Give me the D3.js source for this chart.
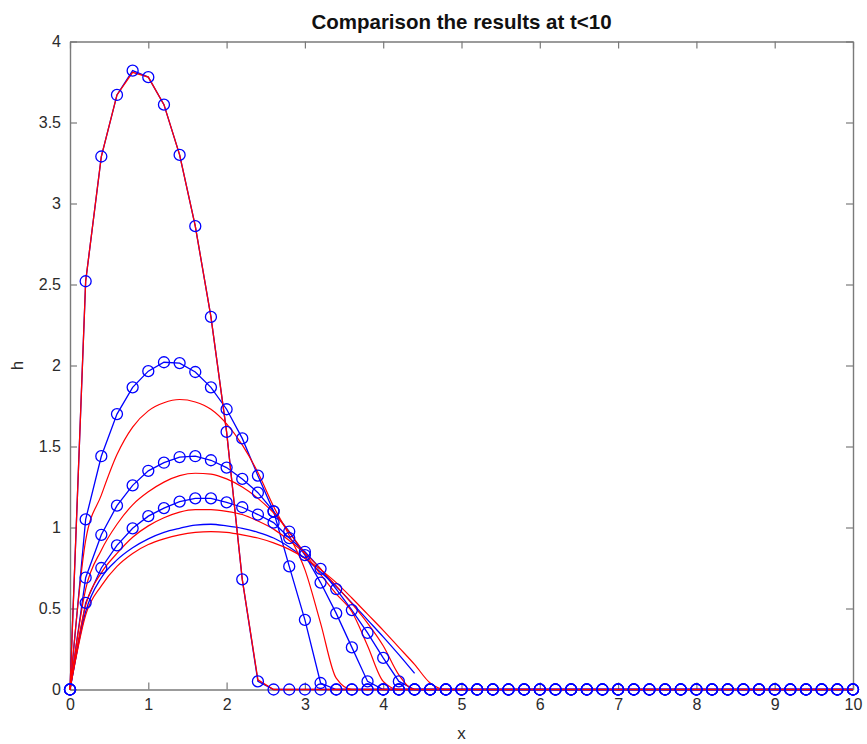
<!DOCTYPE html>
<html>
<head>
<meta charset="utf-8">
<script src="https://cdn.jsdelivr.net/npm/d3@7"></script>
<style>
  body { margin: 0; background: #fff; }
  text { font-family: "Liberation Sans", Arial, Helvetica, sans-serif; }
</style>
</head>
<body>
<svg id="chart" width="867" height="744"></svg>
<script>
// Grid positions along x (step 0.2 from 0 to 10)
const xGrid = [0,0.2,0.4,0.6,0.8,1,1.2,1.4,1.6,1.8,2,2.2,2.4,2.6,2.8,3,3.2,3.4,3.6,3.8,4,
  4.2,4.4,4.6,4.8,5,5.2,5.4,5.6,5.8,6,6.2,6.4,6.6,6.8,7,7.2,7.4,7.6,7.8,8,
  8.2,8.4,8.6,8.8,9,9.2,9.4,9.6,9.8,10];

const xTicks = [0,1,2,3,4,5,6,7,8,9,10];
const yTicks = [0,0.5,1,1.5,2,2.5,3,3.5,4];

// Blue profiles drawn with circle markers (one value per grid position)
const blue1 = [0,2.52,3.29,3.67,3.82,3.78,3.61,3.30,2.86,2.30,1.59,0.68,0.05,0,0,0,0,0,0,0,0,
  0,0,0,0,0,0,0,0,0,0,0,0,0,0,0,0,0,0,0,0,0,0,0,0,0,0,0,0,0,0];
const blue2 = [0,1.05,1.44,1.70,1.865,1.965,2.02,2.015,1.96,1.865,1.73,1.55,1.32,1.10,0.76,0.43,0.04,0,0,0,0,
  0,0,0,0,0,0,0,0,0,0,0,0,0,0,0,0,0,0,0,0,0,0,0,0,0,0,0,0,0,0];
const blue3 = [0,0.69,0.955,1.135,1.26,1.35,1.40,1.435,1.44,1.415,1.37,1.30,1.215,1.10,0.975,0.83,0.66,0.47,0.26,0.05,0,
  0,0,0,0,0,0,0,0,0,0,0,0,0,0,0,0,0,0,0,0,0,0,0,0,0,0,0,0,0,0];
const blue4 = [0,0.535,0.75,0.89,0.995,1.07,1.12,1.16,1.18,1.18,1.155,1.125,1.08,1.03,0.935,0.85,0.745,0.62,0.49,0.35,0.195,
  0.05,0,0,0,0,0,0,0,0,0,0,0,0,0,0,0,0,0,0,0,0,0,0,0,0,0,0,0,0,0];
// Blue profile without markers, defined up to x = 4.4
const blue5 = [0,0.48,0.69,0.80,0.875,0.93,0.97,0.995,1.015,1.02,1.01,0.995,0.97,0.935,0.88,0.81,0.725,0.635,0.535,0.43,0.325,
  0.215,0.10];

// Red profiles (lines only)
const red1 = [0,2.52,3.29,3.67,3.81,3.78,3.61,3.30,2.86,2.30,1.59,0.68,0.06,0,0,0,0,0,0,0,0,
  0,0,0,0,0,0,0,0,0,0,0,0,0,0,0,0,0,0,0,0,0,0,0,0,0,0,0,0,0,0];
const red2 = [0,0.92,1.20,1.45,1.62,1.72,1.77,1.79,1.775,1.73,1.64,1.51,1.34,1.13,0.95,0.74,0.41,0.07,0,0,0,
  0,0,0,0,0,0,0,0,0,0,0,0,0,0,0,0,0,0,0,0,0,0,0,0,0,0,0,0,0,0];
const red3 = [0,0.62,0.86,1.02,1.14,1.22,1.28,1.32,1.335,1.33,1.30,1.25,1.18,1.09,0.97,0.84,0.71,0.59,0.48,0.27,0.05,
  0,0,0,0,0,0,0,0,0,0,0,0,0,0,0,0,0,0,0,0,0,0,0,0,0,0,0,0,0,0];
const red4 = [0,0.52,0.72,0.84,0.94,1.01,1.06,1.095,1.11,1.11,1.10,1.08,1.04,0.99,0.92,0.84,0.745,0.64,0.53,0.41,0.27,
  0.09,0,0,0,0,0,0,0,0,0,0,0,0,0,0,0,0,0,0,0,0,0,0,0,0,0,0,0,0,0];
const red5 = [0,0.46,0.64,0.76,0.84,0.895,0.93,0.955,0.97,0.975,0.97,0.955,0.935,0.905,0.865,0.81,0.74,0.66,0.565,0.465,0.365,
  0.26,0.155,0.04,0,0,0,0,0,0,0,0,0,0,0,0,0,0,0,0,0,0,0,0,0,0,0,0,0,0,0];

const titleText = "Comparison the results at t<10";
const xLabel = "x";
const yLabel = "h";

const svg = d3.select("#chart");
svg.append("rect").attr("width", 867).attr("height", 744).attr("fill", "#fff");

const plotLeft = 70, plotRight = 853, plotTop = 41.5, plotBottom = 689.5;
const x = d3.scaleLinear().domain([0, 10]).range([plotLeft, plotRight]);
const y = d3.scaleLinear().domain([0, 4]).range([plotBottom, plotTop]);

const axisColor = "#7a7a7a";
const labelColor = "#2b2b2b";
const tickLen = 7;

function styleAxis(g) {
  g.selectAll("path.domain").attr("stroke", axisColor).attr("stroke-width", 1.4);
  g.selectAll(".tick line").attr("stroke", axisColor).attr("stroke-width", 1.2);
  g.selectAll(".tick text").attr("fill", labelColor).attr("font-size", 16)
    .attr("font-family", "\"Liberation Sans\", Arial, Helvetica, sans-serif");
}

const fmt = d => String(d);

svg.append("g").attr("transform", `translate(0,${plotBottom})`)
  .call(d3.axisBottom(x).tickValues(xTicks).tickFormat(fmt).tickSize(-tickLen).tickSizeOuter(0).tickPadding(9))
  .call(styleAxis);
svg.append("g").attr("transform", `translate(0,${plotTop})`)
  .call(d3.axisTop(x).tickValues(xTicks).tickFormat("").tickSize(-tickLen).tickSizeOuter(0))
  .call(styleAxis);
svg.append("g").attr("transform", `translate(${plotLeft},0)`)
  .call(d3.axisLeft(y).tickValues(yTicks).tickFormat(fmt).tickSize(-tickLen).tickSizeOuter(0).tickPadding(9))
  .call(styleAxis);
svg.append("g").attr("transform", `translate(${plotRight},0)`)
  .call(d3.axisRight(y).tickValues(yTicks).tickFormat("").tickSize(-tickLen).tickSizeOuter(0))
  .call(styleAxis);

// Straight segments for the marked profiles and the tall red one; smooth curves for the others
const straightLine = d3.line().x(d => x(d[0])).y(d => y(d[1]));
const smoothLine = d3.line().curve(d3.curveMonotoneX).x(d => x(d[0])).y(d => y(d[1]));
const pairs = vals => vals.map((v, i) => [xGrid[i], v]);

const blueColor = "#0000ff";
const redColor = "#ff0000";
const plot = svg.append("g");

const markedBlue = [blue1, blue2, blue3, blue4];
markedBlue.forEach(s => {
  plot.append("path").attr("d", straightLine(pairs(s)))
    .attr("fill", "none").attr("stroke", blueColor).attr("stroke-width", 1.3);
});
plot.append("path").attr("d", smoothLine(pairs(blue5)))
  .attr("fill", "none").attr("stroke", blueColor).attr("stroke-width", 1.3);

plot.append("path").attr("d", straightLine(pairs(red1)))
  .attr("fill", "none").attr("stroke", redColor).attr("stroke-width", 1.3);
[red2, red3, red4, red5].forEach(s => {
  plot.append("path").attr("d", smoothLine(pairs(s)))
    .attr("fill", "none").attr("stroke", redColor).attr("stroke-width", 1.2);
});

markedBlue.forEach(s => {
  plot.append("g").selectAll("circle").data(pairs(s)).join("circle")
    .attr("cx", d => x(d[0])).attr("cy", d => y(d[1])).attr("r", 5.5)
    .attr("fill", "none").attr("stroke", blueColor).attr("stroke-width", 1.3);
});

svg.append("text").attr("x", (plotLeft + plotRight) / 2).attr("y", 29)
  .attr("text-anchor", "middle").attr("font-size", 20.5).attr("font-weight", "bold")
  .attr("fill", "#111").text(titleText);

svg.append("text").attr("x", (plotLeft + plotRight) / 2).attr("y", 739)
  .attr("text-anchor", "middle").attr("font-size", 17).attr("fill", labelColor).text(xLabel);

svg.append("text").attr("transform", `translate(23,${(plotTop + plotBottom) / 2}) rotate(-90)`)
  .attr("text-anchor", "middle").attr("font-size", 17).attr("fill", labelColor).text(yLabel);
</script>
</body>
</html>
